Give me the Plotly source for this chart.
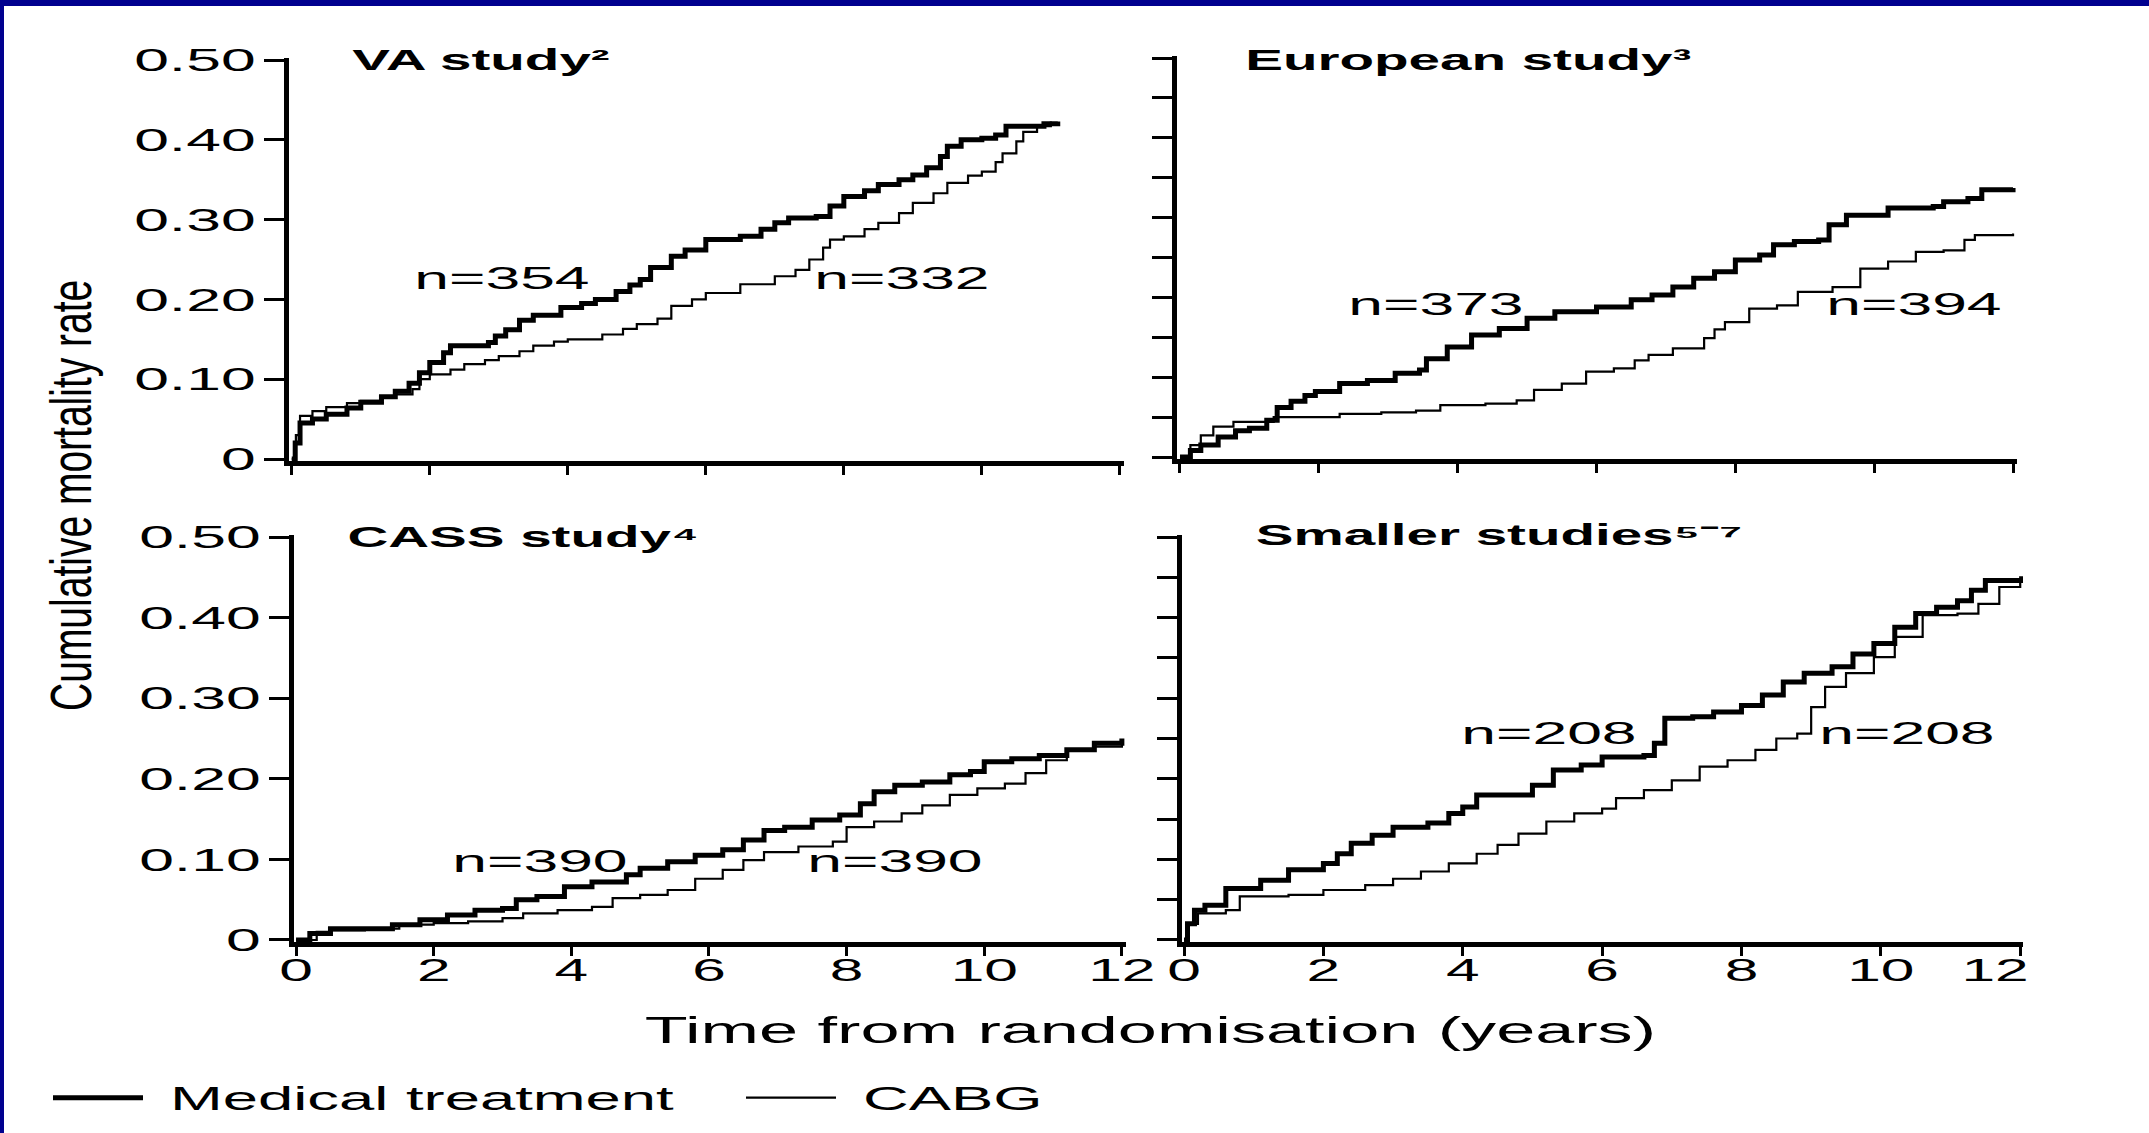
import plotly.graph_objects as go

# ---------------- data ----------------
years_ticks = [0, 2, 4, 6, 8, 10, 12]
years_tick_text = ["0", "2", "4", "6", "8", "10", "12"]
rate_ticks = [0, 0.10, 0.20, 0.30, 0.40, 0.50]
rate_tick_text = ["0", "0.10", "0.20", "0.30", "0.40", "0.50"]
rate_minor_ticks = [0, 0.05, 0.10, 0.15, 0.20, 0.25, 0.30, 0.35, 0.40, 0.45, 0.50]

study_titles = ["VA study²", "European study³", "CASS study⁴", "Smaller studies⁵⁻⁷"]
series_names = ["Medical treatment", "CABG"]

# VA study
va_med_t = [0, 0.05, 0.12, 0.3, 0.5, 0.8, 1.0, 1.3, 1.5, 1.7, 1.85, 2.0, 2.2, 2.3, 2.85, 2.95, 3.1, 3.3, 3.5,
            3.9, 4.2, 4.4, 4.7, 4.9, 5.05, 5.2, 5.5, 5.7, 6.0, 6.5, 6.8, 7.0, 7.2, 7.6, 7.8, 8.0, 8.3, 8.5,
            8.8, 9.0, 9.2, 9.4, 9.5, 9.7, 10.0, 10.2, 10.35, 10.9, 11.1]
va_med_y = [0, 0.02, 0.045, 0.05, 0.056, 0.064, 0.071, 0.078, 0.085, 0.095, 0.108, 0.121, 0.133, 0.142,
            0.146, 0.154, 0.162, 0.174, 0.18, 0.19, 0.195, 0.2, 0.21, 0.218, 0.225, 0.24, 0.254, 0.262,
            0.275, 0.279, 0.288, 0.296, 0.302, 0.304, 0.317, 0.329, 0.336, 0.344, 0.35, 0.356, 0.365,
            0.379, 0.392, 0.4, 0.402, 0.406, 0.417, 0.42, 0.423]
va_cabg_t = [0, 0.06, 0.12, 0.3, 0.5, 0.8, 1.0, 1.3, 1.5, 1.75, 1.85, 2.0, 2.3, 2.5, 2.8, 3.0, 3.3, 3.5,
             3.8, 4.0, 4.5, 4.8, 5.0, 5.3, 5.5, 5.8, 6.0, 6.5, 7.0, 7.3, 7.5, 7.7, 7.8, 8.0, 8.3, 8.5,
             8.8, 9.0, 9.3, 9.5, 9.8, 10.0, 10.2, 10.3, 10.5, 10.6, 10.8, 11.0]
va_cabg_y = [0, 0.03, 0.054, 0.06, 0.065, 0.07, 0.073, 0.077, 0.081, 0.0875, 0.1, 0.106, 0.112, 0.119,
             0.124, 0.129, 0.135, 0.142, 0.147, 0.15, 0.156, 0.163, 0.169, 0.176, 0.192, 0.2, 0.208,
             0.219, 0.229, 0.237, 0.25, 0.265, 0.275, 0.279, 0.288, 0.296, 0.308, 0.321, 0.333, 0.346,
             0.355, 0.36, 0.372, 0.383, 0.398, 0.41, 0.417, 0.423]

# European study
eu_med_t = [0, 0.15, 0.3, 0.55, 0.8, 1.0, 1.25, 1.4, 1.6, 1.8, 1.95, 2.3, 2.7, 3.1, 3.45, 3.55, 3.85,
            4.2, 4.6, 5.0, 5.4, 6.0, 6.5, 6.8, 7.1, 7.4, 7.7, 8.0, 8.35, 8.55, 8.85, 9.2, 9.35, 9.6,
            10.2, 10.85, 11.0, 11.35, 11.55, 12.0]
eu_med_y = [0, 0.008, 0.015, 0.025, 0.033, 0.036, 0.046, 0.062, 0.07, 0.077, 0.082, 0.092, 0.096,
            0.105, 0.109, 0.123, 0.138, 0.153, 0.161, 0.174, 0.182, 0.188, 0.197, 0.203, 0.213, 0.224,
            0.232, 0.247, 0.253, 0.266, 0.27, 0.272, 0.291, 0.303, 0.312, 0.314, 0.32, 0.324, 0.335, 0.337]
eu_cabg_t = [0, 0.15, 0.3, 0.48, 0.77, 1.35, 2.3, 2.9, 3.4, 3.75, 4.4, 4.85, 5.1, 5.5, 5.85, 6.25, 6.55,
             6.75, 7.1, 7.55, 7.7, 7.85, 8.2, 8.6, 8.9, 9.4, 9.8, 10.2, 10.6, 11.0, 11.3, 11.45, 12.0]
eu_cabg_y = [0, 0.015, 0.027, 0.038, 0.044, 0.05, 0.054, 0.056, 0.058, 0.065, 0.067, 0.071, 0.084,
             0.092, 0.107, 0.111, 0.121, 0.128, 0.136, 0.149, 0.16, 0.169, 0.186, 0.19, 0.207, 0.213,
             0.236, 0.245, 0.257, 0.259, 0.272, 0.278, 0.28]

# CASS study
cass_med_t = [0, 0.2, 0.5, 1.0, 1.4, 1.8, 2.2, 2.6, 3.0, 3.2, 3.5, 3.9, 4.3, 4.8, 5.0, 5.4, 5.8, 6.2,
              6.5, 6.8, 7.1, 7.5, 7.9, 8.2, 8.4, 8.7, 9.1, 9.5, 9.8, 10.0, 10.4, 10.8, 11.2, 11.6, 12.0]
cass_med_y = [0, 0.008, 0.014, 0.014, 0.019, 0.025, 0.031, 0.037, 0.039, 0.05, 0.054, 0.066, 0.072,
              0.081, 0.089, 0.097, 0.105, 0.112, 0.124, 0.136, 0.14, 0.149, 0.155, 0.169, 0.184, 0.192,
              0.196, 0.205, 0.209, 0.221, 0.225, 0.229, 0.236, 0.244, 0.25]
cass_cabg_t = [0, 0.3, 0.5, 1.0, 1.5, 2.0, 2.5, 3.0, 3.3, 3.8, 4.3, 4.6, 5.0, 5.4, 5.8, 6.2, 6.5, 6.8,
               7.3, 7.8, 8.0, 8.4, 8.8, 9.1, 9.5, 9.9, 10.3, 10.6, 10.9, 11.2, 11.6, 12.0]
cass_cabg_y = [0, 0.01, 0.012, 0.014, 0.019, 0.021, 0.023, 0.027, 0.033, 0.037, 0.041, 0.052, 0.056,
               0.062, 0.076, 0.087, 0.099, 0.109, 0.116, 0.122, 0.14, 0.147, 0.157, 0.167, 0.18, 0.188,
               0.194, 0.207, 0.223, 0.236, 0.24, 0.248]

# Smaller studies
small_med_t = [0, 0.05, 0.15, 0.3, 0.6, 1.1, 1.5, 2.0, 2.2, 2.4, 2.7, 3.0, 3.5, 3.8, 4.0, 4.2, 5.0, 5.3,
               5.7, 6.0, 6.6, 6.75, 6.9, 7.3, 7.6, 8.0, 8.3, 8.6, 8.9, 9.3, 9.6, 9.9, 10.2, 10.5, 10.8,
               11.1, 11.3, 11.5, 12.1]
small_med_y = [0, 0.02, 0.037, 0.043, 0.064, 0.074, 0.087, 0.095, 0.107, 0.12, 0.13, 0.14, 0.145, 0.157,
               0.165, 0.18, 0.192, 0.211, 0.217, 0.227, 0.229, 0.244, 0.275, 0.277, 0.283, 0.291, 0.304,
               0.32, 0.331, 0.339, 0.355, 0.368, 0.388, 0.405, 0.413, 0.421, 0.434, 0.446, 0.448]
small_cabg_t = [0, 0.05, 0.2, 0.6, 0.8, 1.5, 2.0, 2.6, 3.0, 3.4, 3.8, 4.2, 4.5, 4.8, 5.2, 5.6, 6.0, 6.2,
                6.6, 7.0, 7.4, 7.8, 8.2, 8.5, 8.8, 9.0, 9.2, 9.5, 9.9, 10.2, 10.6, 11.1, 11.4, 11.7,
                12.0, 12.1]
small_cabg_y = [0, 0.02, 0.033, 0.037, 0.054, 0.056, 0.062, 0.068, 0.076, 0.085, 0.095, 0.107, 0.118,
                0.132, 0.147, 0.157, 0.163, 0.176, 0.186, 0.198, 0.215, 0.223, 0.236, 0.25, 0.256, 0.289,
                0.314, 0.331, 0.351, 0.376, 0.403, 0.405, 0.417, 0.438, 0.45, 0.463]

# sample-size labels: (text, year, rate) per panel
n_labels = [
    [("n=354", 3.04, 0.227), ("n=332", 8.84, 0.227)],
    [("n=373", 3.69, 0.192), ("n=394", 10.58, 0.192)],
    [("n=390", 3.54, 0.098), ("n=390", 8.70, 0.098)],
    [("n=208", 5.24, 0.257), ("n=208", 10.37, 0.257)],
]

# ---------------- layout helpers ----------------
W, H = 2149, 1133
FONT = "Liberation Sans, Arial, Helvetica, sans-serif"
INK = "black"
NAVY = "#00008f"
NBSP = "\u00a0"


def fx(px):
    return px / W


def fy(py):
    return 1 - py / H


panels = [
    # (series med t, med y, cabg t, cabg y, x-domain px, y-domain px, x range)
    (va_med_t, va_med_y, va_cabg_t, va_cabg_y, (289, 1124), (58, 461), (-0.04, 12.06)),
    (eu_med_t, eu_med_y, eu_cabg_t, eu_cabg_y, (1177, 2017), (56, 459), (-0.043, 12.057)),
    (cass_med_t, cass_med_y, cass_cabg_t, cass_cabg_y, (294, 1126), (535, 942), (-0.03, 12.06)),
    (small_med_t, small_med_y, small_cabg_t, small_cabg_y, (1182, 2023), (535, 942), (-0.029, 12.04)),
]

fig = go.Figure()
layout_axes = {}
for i, (mt, my, ct, cy, xd, yd, xr) in enumerate(panels):
    k = "" if i == 0 else str(i + 1)
    xref, yref = "x" + k, "y" + k
    fig.add_trace(go.Scatter(x=mt, y=my, mode="lines", line=dict(color=INK, width=5, shape="hv"),
                             name=series_names[0], showlegend=(i == 0), legendrank=1,
                             xaxis=xref, yaxis=yref))
    fig.add_trace(go.Scatter(x=ct, y=cy, mode="lines", line=dict(color=INK, width=2.2, shape="hv"),
                             name=series_names[1], showlegend=(i == 0), legendrank=2,
                             xaxis=xref, yaxis=yref))
    left = i in (0, 2)
    bottom = i in (2, 3)
    xt = list(years_tick_text)
    if i == 3:
        # in the reference the last label of this panel sits left of its tick
        xt[-1] = xt[-1] + NBSP * 3
    layout_axes["xaxis" + k] = dict(
        domain=[fx(xd[0]), fx(xd[1])], range=list(xr), anchor=yref, automargin=False,
        showline=True, linecolor=INK, linewidth=5, showgrid=False, zeroline=False,
        tickmode="array", tickvals=years_ticks, ticktext=xt,
        ticks="outside", ticklen=9, tickwidth=3, tickcolor=INK,
        showticklabels=bottom, ticklabelstandoff=-12,
        tickfont=dict(family=FONT, size=31, color=INK),
    )
    layout_axes["yaxis" + k] = dict(
        domain=[fy(yd[1]), fy(yd[0])], range=[-0.0025, 0.5025], anchor=xref, automargin=False,
        showline=True, linecolor=INK, linewidth=5, showgrid=False, zeroline=False,
        tickmode="array",
        tickvals=rate_ticks if left else rate_minor_ticks,
        ticktext=rate_tick_text if left else [""] * len(rate_minor_ticks),
        ticks="outside", ticklen=20, tickwidth=3, tickcolor=INK,
        showticklabels=left, ticklabelstandoff=2,
        tickfont=dict(family=FONT, size=32, color=INK),
    )

annotations = []
# panel titles (paper coords, centre x / centre y in px)
title_pos = [(481, 60), (1468, 60), (523, 537), (1499, 535)]
for txt, (cx, cy) in zip(study_titles, title_pos):
    annotations.append(dict(text=txt, xref="paper", yref="paper", x=fx(cx), y=fy(cy),
                            xanchor="center", yanchor="middle", showarrow=False,
                            font=dict(family=FONT, size=29, color=INK, weight="bold")))
# n labels in data coordinates
for i, labels in enumerate(n_labels):
    k = "" if i == 0 else str(i + 1)
    for txt, xv, yv in labels:
        annotations.append(dict(text=txt, xref="x" + k, yref="y" + k, x=xv, y=yv,
                                xanchor="center", yanchor="middle", showarrow=False,
                                font=dict(family=FONT, size=32, color=INK)))
# shared axis titles
annotations.append(dict(text="Time from randomisation (years)", xref="paper", yref="paper",
                        x=fx(1150), y=fy(1030), xanchor="center", yanchor="middle",
                        showarrow=False, font=dict(family=FONT, size=36, color=INK)))
annotations.append(dict(text="Cumulative mortality rate", xref="paper", yref="paper",
                        x=fx(71), y=fy(496), xanchor="center", yanchor="middle", textangle=-90,
                        showarrow=False, font=dict(family=FONT, size=39, color=INK)))

shapes = [
    dict(type="rect", xref="paper", yref="paper", x0=0, x1=1, y0=fy(6), y1=1,
         fillcolor=NAVY, line=dict(width=0), layer="above"),
    dict(type="rect", xref="paper", yref="paper", x0=0, x1=fx(4), y0=0, y1=1,
         fillcolor=NAVY, line=dict(width=0), layer="above"),
]

fig.update_layout(
    template="none",
    width=W, height=H, autosize=False, margin=dict(l=0, r=0, t=0, b=0, pad=0, autoexpand=False),
    paper_bgcolor="white", plot_bgcolor="white",
    font=dict(family=FONT, color=INK),
    showlegend=True,
    legend=dict(orientation="h", x=fx(48), y=fy(1098), xanchor="left", yanchor="middle",
                bgcolor="rgba(0,0,0,0)", borderwidth=0, font=dict(family=FONT, size=32.5, color=INK),
                itemwidth=90, entrywidth=588, entrywidthmode="pixels", traceorder="normal"),
    annotations=annotations, shapes=shapes,
    **layout_axes,
)

# Page without default body margin; the reference typesetting is horizontally
# stretched, so widen the glyphs in place (text stays text).
stretch_js = r"""
document.documentElement.style.margin = '0';
document.body.style.margin = '0';
document.body.style.overflow = 'hidden';
var gd = document.getElementById('{plot_id}');
var S = 1.95;
gd.querySelectorAll('svg tspan').forEach(function(ts){
  if (!(ts.textContent || '').replace(/[\s\u200b]/g, '') && !ts.querySelector('tspan')) {
    ts.parentNode.removeChild(ts);
  }
});
gd.querySelectorAll('svg text').forEach(function(t){
  var txt = t.textContent || '';
  if (!txt.replace(/[\s\u200b]/g, '')) { t.parentNode.removeChild(t); return; }
  var bb; try { bb = t.getBBox(); } catch(e) { return; }
  if (!bb || !bb.width) return;
  var tr = t.getAttribute('transform') || '';
  var extra;
  if (txt.indexOf('Cumulative') === 0) {
    var cy = bb.y + bb.height / 2;
    extra = ' translate(0,' + cy + ') scale(1,1.45) translate(0,' + (-cy) + ')';
  } else {
    var a = getComputedStyle(t).getPropertyValue('text-anchor') || t.getAttribute('text-anchor') || 'start';
    var ax = a === 'end' ? bb.x + bb.width : (a === 'middle' ? bb.x + bb.width / 2 : bb.x);
    var shift = t.closest('.legend') ? 22 : 0;
    extra = ' translate(' + (ax + shift) + ',0) scale(' + S + ',1) translate(' + (-ax) + ',0)';
  }
  t.setAttribute('transform', tr + extra);
});
"""

fig.write_html("out.html", config={"displayModeBar": False}, post_script=stretch_js)
